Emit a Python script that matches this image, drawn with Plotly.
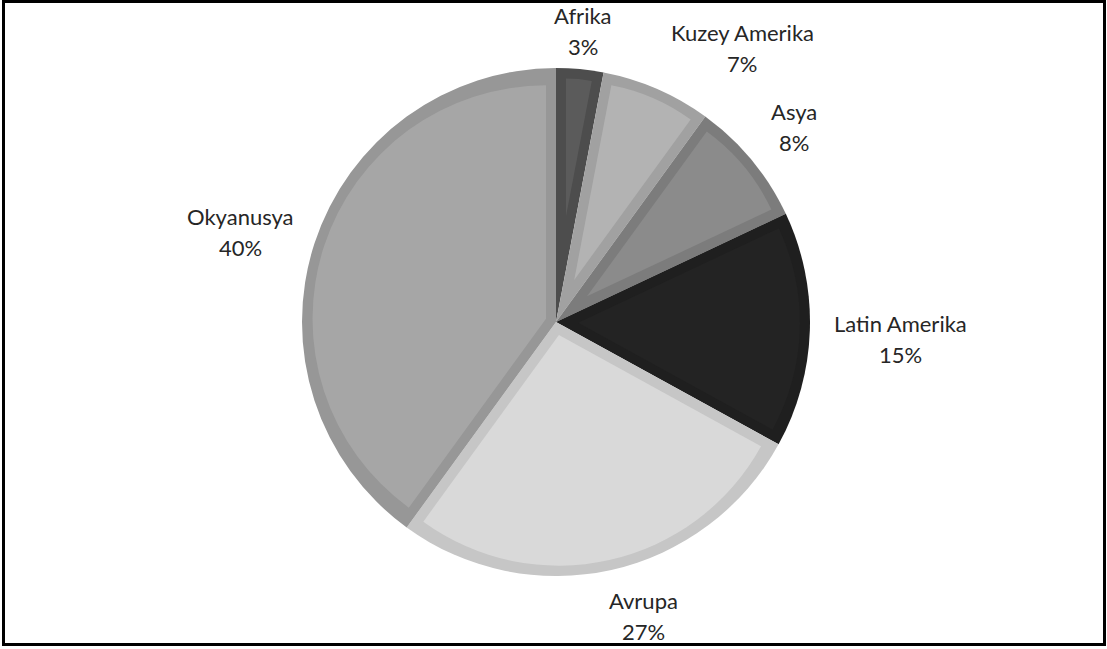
import math
import plotly.graph_objects as go

# Share of each region (percent), clockwise from 12 o'clock
regions = ["Afrika", "Kuzey Amerika", "Asya", "Latin Amerika", "Avrupa", "Okyanusya"]
shares = [3, 7, 8, 15, 27, 40]

# Slice fill and (slightly darker) edge colours
fill_colors = ["#5b5b5b", "#b3b3b3", "#8b8b8b", "#232323", "#d9d9d9", "#a6a6a6"]
edge_colors = ["#4d4d4d", "#a1a1a1", "#7c7c7c", "#1f1f1f", "#c6c6c6", "#979797"]

# Label block centres in pixels (x, y)
label_anchors = [(583, 31), (742, 48), (794, 127), (900, 339), (643, 616), (240, 232)]

W, H = 1107, 649
CX, CY, R = 556, 322, 254
EDGE = 10          # width of the inset edge band on every slice
LINE_GAP = 31      # distance between name line and percent line


def domain_for(cx, cy, r):
    return dict(x=[(cx - r) / W, (cx + r) / W],
                y=[1 - (cy + r) / H, 1 - (cy - r) / H])


fig = go.Figure()

# Full pie in the edge colours
fig.add_trace(go.Pie(
    labels=regions, values=shares, sort=False, direction="clockwise", rotation=0,
    marker=dict(colors=edge_colors, line=dict(width=0)),
    textinfo="none", hoverinfo="label+percent", showlegend=False,
    domain=domain_for(CX, CY, R),
))

# Inset slice bodies: each wedge is redrawn from an apex pushed along its
# bisector so that its sides sit EDGE pixels inside the original sides.
total = sum(shares)
start = 0.0
for name, v, col in zip(regions, shares, fill_colors):
    sweep = v / total * 360.0
    mid = math.radians(start + sweep / 2)
    d = EDGE / math.sin(math.radians(sweep / 2))
    ax = CX + d * math.sin(mid)
    ay = CY - d * math.cos(mid)
    rho = R - EDGE - d
    fig.add_trace(go.Pie(
        values=[v, total - v], labels=[name, " "], sort=False,
        direction="clockwise", rotation=start,
        marker=dict(colors=[col, "rgba(0,0,0,0)"], line=dict(width=0)),
        textinfo="none", hoverinfo="skip", showlegend=False,
        domain=domain_for(ax, ay, rho),
    ))
    start += sweep

# Data labels: name on the first line, percentage on the second
font = dict(family="Lato, 'Noto Sans', sans-serif", size=22, color="#262626")
for name, v, (lx, ly) in zip(regions, shares, label_anchors):
    pct = f"{round(v / total * 100)}%"
    for txt, yy in ((name, ly - LINE_GAP / 2), (pct, ly + LINE_GAP / 2)):
        fig.add_annotation(x=lx / W, y=1 - yy / H, xref="paper", yref="paper",
                           text=txt, showarrow=False, font=font,
                           xanchor="center", yanchor="middle")

# Outer frame
fig.add_shape(type="rect", xref="paper", yref="paper",
              x0=3.5 / W, x1=1104.5 / W, y0=1 - 644.5 / H, y1=1 - 1.5 / H,
              line=dict(color="#000000", width=3), fillcolor="rgba(0,0,0,0)")

fig.update_layout(
    width=W, height=H,
    margin=dict(l=0, r=0, t=0, b=0),
    paper_bgcolor="#ffffff", plot_bgcolor="#ffffff",
)

fig.write_html("out.html")
